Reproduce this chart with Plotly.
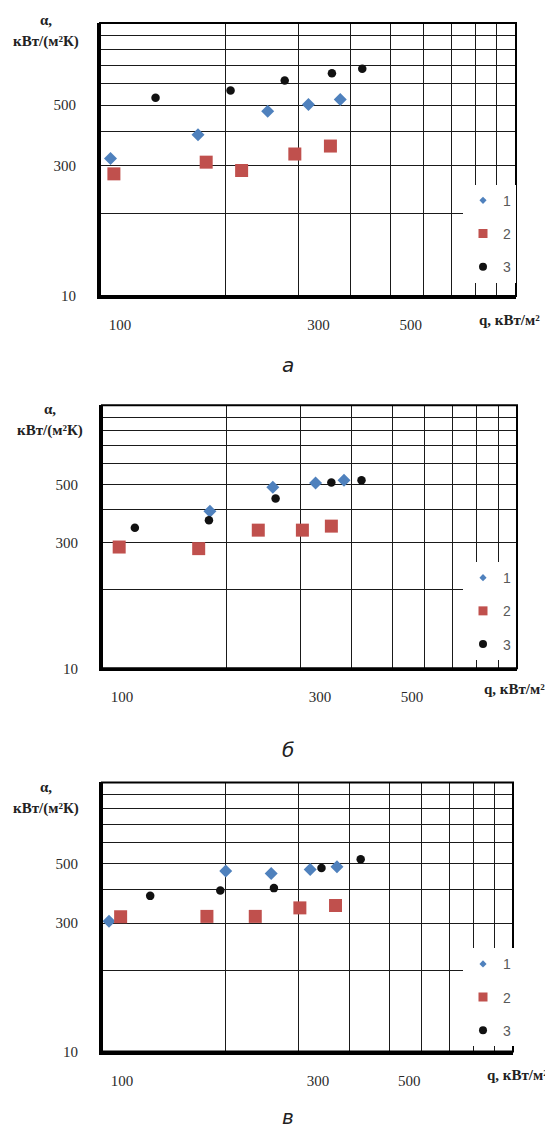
import plotly.graph_objects as go

# ---------------- data ----------------
# panel а
q_a1 = [106, 172, 253, 317, 378]
alpha_a1 = [319, 389, 475, 502, 524]
q_a2 = [108, 180, 219, 294, 358]
alpha_a2 = [280, 309, 288, 331, 354]
q_a3 = [136, 206, 278, 361, 427]
alpha_a3 = [532, 566, 615, 654, 679]

# panel б
q_b1 = [182, 258, 327, 383]
alpha_b1 = [395, 488, 506, 518]
q_b2 = [110, 171, 238, 304, 357]
alpha_b2 = [289, 285, 335, 335, 347]
q_b3 = [120, 181, 262, 357, 422]
alpha_b3 = [342, 365, 442, 508, 518]

# panel в
q_c1 = [104, 200, 258, 321, 373]
alpha_c1 = [305, 469, 459, 475, 486]
q_c2 = [111, 180, 236, 303, 370]
alpha_c2 = [317, 318, 318, 342, 349]
q_c3 = [131, 194, 262, 342, 426]
alpha_c3 = [379, 397, 405, 481, 518]

series_names = ["1", "2", "3"]
grid_vals = [100, 200, 300, 400, 500, 600, 700, 800, 900, 1000]
x_ticktext = ["100", "", "300", "", "500", "", "", "", "", ""]
y_ticktext = ["10", "", "300", "", "500", "", "", "", "", ""]
captions = ["а", "б", "в"]

# ---------------- styling ----------------
OFF = 8                      # default page body margin
W, H = 553 - OFF, 1141 - OFF
styles = [
    dict(symbol="diamond", color="#4F81BD", size=10, lsize=5.5),
    dict(symbol="square", color="#C0504D", size=13, lsize=9),
    dict(symbol="circle", color="#111111", size=8.5, lsize=8),
]
SERIF = "Liberation Serif"
GRID = "#1a1a1a"

# panel boxes in page pixels: left, right, top, bottom ; label positions
panels = [
    dict(box=(100, 516, 23, 298), alpha_y=(20, 42), lab_x=46, qlab=(477, 322), cap_y=368, legend_top=186),
    dict(box=(102, 517, 408, 673), alpha_y=(412, 434), lab_x=50, qlab=(482, 694), cap_y=755, legend_top=566),
    dict(box=(102, 513, 788, 1059), alpha_y=(793, 814), lab_x=46, qlab=(485, 1083), cap_y=1125, legend_top=955),
]
data = [
    [(q_a1, alpha_a1), (q_a2, alpha_a2), (q_a3, alpha_a3)],
    [(q_b1, alpha_b1), (q_b2, alpha_b2), (q_b3, alpha_b3)],
    [(q_c1, alpha_c1), (q_c2, alpha_c2), (q_c3, alpha_c3)],
]


def px(x):
    return (x - OFF) / W


def py(y):
    return 1 - (y - OFF) / H


fig = go.Figure()
layout = dict(
    width=W, height=H, margin=dict(l=0, r=0, t=0, b=0),
    paper_bgcolor="white", plot_bgcolor="white", showlegend=True,
)
annotations = []
shapes = []

for i, (panel, series) in enumerate(zip(panels, data)):
    n = "" if i == 0 else str(i + 1)
    xa, ya = "x" + n, "y" + n
    leg = "legend" + n
    l, r, t, b = panel["box"]
    for j, ((qs, als), st) in enumerate(zip(series, styles)):
        fig.add_trace(go.Scatter(
            x=qs, y=als, mode="markers", xaxis=xa, yaxis=ya,
            marker=dict(symbol=st["symbol"], color=st["color"], size=st["size"], line=dict(width=0)),
            showlegend=False, cliponaxis=False, name=series_names[j],
        ))
        # legend entry with the smaller legend symbol
        fig.add_trace(go.Scatter(
            x=[None], y=[None], mode="markers", xaxis=xa, yaxis=ya,
            marker=dict(symbol=st["symbol"], color=st["color"], size=st["lsize"], line=dict(width=0)),
            name=series_names[j], legend=leg, legendgroup=f"{i}-{j}", showlegend=True,
        ))
    common = dict(
        type="log", range=[2, 3], tickmode="array", tickvals=grid_vals,
        showgrid=True, gridcolor=GRID, gridwidth=1, zeroline=False,
        showline=True, linecolor="black", linewidth=3, ticks="",
        tickfont=dict(family=SERIF, size=15, color="#2a2a2a"), fixedrange=True,
    )
    layout["xaxis" + n] = dict(common, domain=[px(l), px(r)], anchor=ya,
                                ticktext=x_ticktext, ticklabelshift=20, ticklabelstandoff=13)
    layout["yaxis" + n] = dict(common, domain=[py(b), py(t)], anchor=xa,
                                ticktext=y_ticktext, ticklabelstandoff=18)
    layout[leg] = dict(
        x=px(463), xanchor="left", y=py(panel["legend_top"]), yanchor="top",
        bgcolor="white", borderwidth=0, traceorder="grouped", tracegroupgap=12,
        font=dict(family="Liberation Sans", size=14, color="#595959"),
    )
    # thinner top/right frame
    shapes.append(dict(type="rect", xref=xa + " domain", yref=ya + " domain",
                       x0=0, x1=1, y0=0, y1=1, line=dict(color="black", width=2), layer="above"))
    # axis titles
    a1, a2 = panel["alpha_y"]
    annotations.append(dict(text="<b>α,</b>", x=px(panel["lab_x"]), y=py(a1), xref="paper", yref="paper",
                            showarrow=False, xanchor="center", yanchor="middle",
                            font=dict(family=SERIF, size=15, color="#222")))
    annotations.append(dict(text="<b>кВт/(м²К)</b>", x=px(panel["lab_x"]), y=py(a2), xref="paper", yref="paper",
                            showarrow=False, xanchor="center", yanchor="middle",
                            font=dict(family=SERIF, size=15, color="#222")))
    qx, qy = panel["qlab"]
    annotations.append(dict(text="<b>q, кВт/м²</b>", x=px(qx), y=py(qy), xref="paper", yref="paper",
                            showarrow=False, xanchor="left", yanchor="middle",
                            font=dict(family=SERIF, size=15, color="#222")))
    annotations.append(dict(text="<i>" + captions[i] + "</i>", x=px(288), y=py(panel["cap_y"]),
                            xref="paper", yref="paper", showarrow=False, xanchor="center", yanchor="middle",
                            font=dict(family="DejaVu Sans", size=20, color="#222")))

layout["annotations"] = annotations
layout["shapes"] = shapes
fig.update_layout(**layout)
fig.write_html("out.html")
